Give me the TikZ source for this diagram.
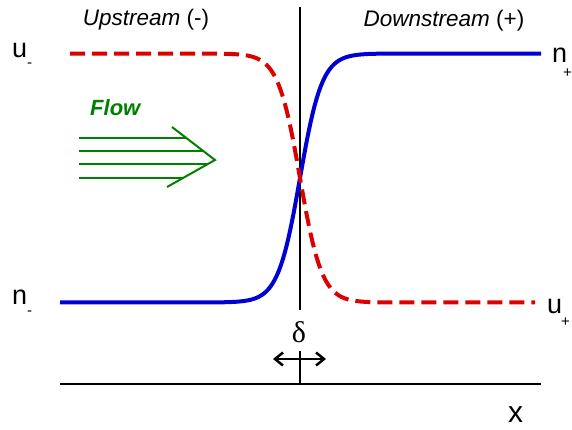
\documentclass[tikz,border=0pt]{standalone}
\usepackage{fontspec}
\setmainfont{Liberation Sans}
\newfontfamily\greekserif{Liberation Serif}
\usetikzlibrary{arrows.meta}
\definecolor{cblue}{RGB}{0,0,210}
\definecolor{cred}{RGB}{220,0,0}
\definecolor{cgreen}{RGB}{0,128,0}
\tikzset{
  lbl/.style={inner sep=0pt, font=\fontsize{27}{29}\selectfont},
  sub/.style={inner sep=0pt, font=\fontsize{15}{16}\selectfont},
  head/.style={inner sep=0pt, font=\fontsize{22.5}{25}\selectfont},
  blackline/.style={line width=2.8pt, black},
  ncurve/.style={line width=4pt, cblue},
  ucurve/.style={line width=4pt, cred, dash pattern=on 15pt off 7pt},
  flowline/.style={line width=2pt, cgreen},
  barb/.style={line width=2.5pt, {Straight Barb[length=8pt,width=13pt]}-{Straight Barb[length=8pt,width=13pt]}},
}
\begin{document}
\begin{tikzpicture}[x=1pt, y=-1pt]
\useasboundingbox (0,0) rectangle (572,429);
% axes
\coordinate (vtop) at (300,7);
\coordinate (vmid) at (300,310);
\coordinate (vlow) at (300,351);
\coordinate (axL) at (60,384);
\coordinate (axR) at (541,384);
\coordinate (axC) at (300,384);
\draw[blackline] (vtop) -- (vmid);
\draw[blackline] (vlow) -- (axC);
\draw[blackline] (axL) -- (axR);
% curves
\draw[ncurve] plot[domain=60:541, samples=241] (\x, {178 - 124.5*tanh(min(max((\x-300)/22,-4),4))});
\draw[ucurve] plot[domain=70:535, samples=233] (\x, {178 + 124.5*tanh(min(max((\x-300)/22,-4),4))});
% headings
\node[head, anchor=base] (up) at (146,25) {\textit{Upstream} (-)};
\node[head, anchor=base] (down) at (444,26) {\textit{Downstream} (+)};
% labels
\node[lbl, anchor=base west] (um) at (12,57) {u};
\node[sub, anchor=base west] (ums) at (27,67) {-};
\node[lbl, anchor=base west] (np) at (552,62) {n};
\node[sub, anchor=base west] (nps) at (563,77) {+};
\node[lbl, anchor=base west] (nm) at (12,304) {n};
\node[sub, anchor=base west] (nms) at (27,315) {-};
\node[lbl, anchor=base west] (up2) at (547,313) {u};
\node[sub, anchor=base west] (ups) at (561,326) {+};
\node[inner sep=0pt, anchor=base, font=\fontsize{30}{32}\selectfont\greekserif] (delta) at (299,342) {δ};
\node[inner sep=0pt, anchor=base west, font=\fontsize{30}{32}\selectfont] (xl) at (508,422) {x};
% delta arrow
\coordinate (dl) at (273,359);
\coordinate (dr) at (326,359);
\draw[barb] (dl) -- (dr);
% flow
\node[inner sep=0pt, anchor=base west, text=cgreen, font=\fontsize{22}{24}\selectfont\bfseries\itshape] (flow) at (90,115) {Flow};
\coordinate (ct) at (172,127);
\coordinate (tip) at (215,160);
\coordinate (cb) at (167,187);
\draw[flowline] (ct) -- (tip) -- (cb);
\coordinate (a1) at (79,137.5); \coordinate (b1) at (186,137.5);
\coordinate (a2) at (79,151); \coordinate (b2) at (203,151);
\coordinate (a3) at (79,164); \coordinate (b3) at (208,164);
\coordinate (a4) at (79,177.5); \coordinate (b4) at (184,177.5);
\draw[flowline] (a1) -- (b1);
\draw[flowline] (a2) -- (b2);
\draw[flowline] (a3) -- (b3);
\draw[flowline] (a4) -- (b4);
\end{tikzpicture}
\end{document}
